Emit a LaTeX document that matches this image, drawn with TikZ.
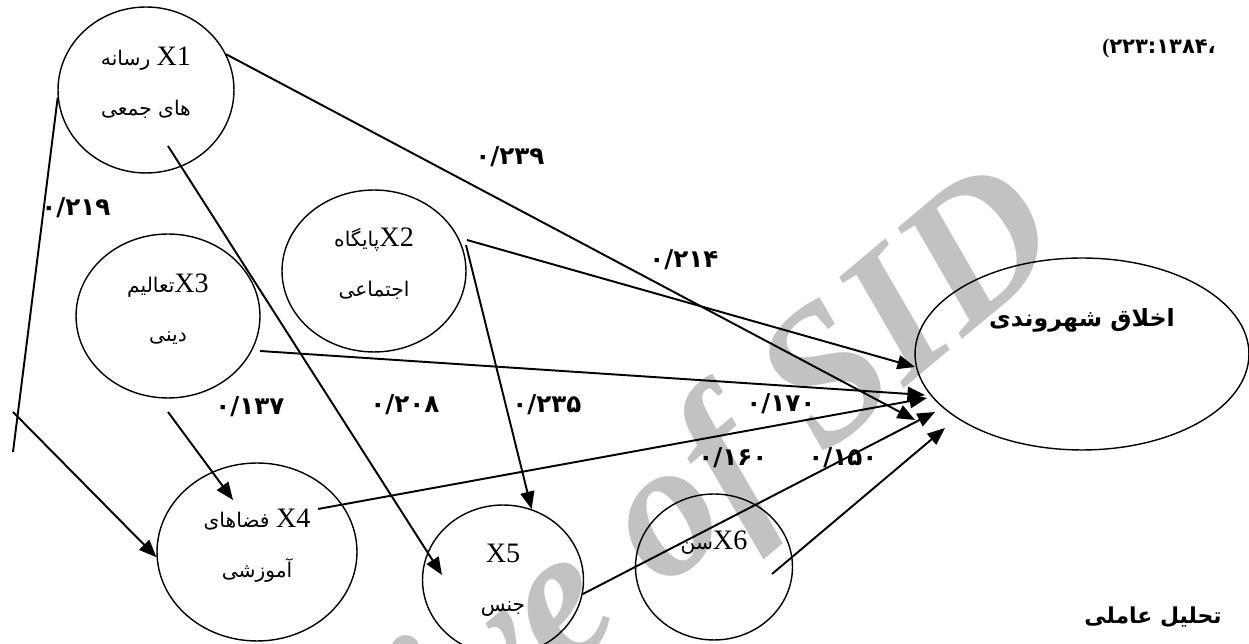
\documentclass[tikz,border=0pt]{standalone}
\usepackage{fontspec}
\setmainfont{Liberation Serif}
\newfontfamily\arabicfont[Script=Arabic]{DejaVu Sans}
\TeXXeTstate=1
\usetikzlibrary{shapes.geometric, arrows.meta}

\newcommand{\lat}[1]{{\rmfamily\fontsize{16}{28}\selectfont #1}}

\begin{document}
\begin{tikzpicture}[x=0.02cm, y=-0.02cm,
    factor/.style={ellipse, draw, line width=0.8pt, inner sep=0pt, align=center,
        font=\arabicfont\fontsize{11.5}{28}\selectfont},
    effect/.style={-{Triangle[length=10pt, width=8pt]}, line width=1.1pt},
    coef/.style={font=\arabicfont\bfseries\fontsize{14}{16}\selectfont},
    heading/.style={font=\arabicfont\bfseries\fontsize{13.5}{20}\selectfont}]

    \useasboundingbox (0,0) rectangle (1249,644);

    \node [rotate=40, anchor=base east, text=black!24, font=\bfseries\itshape\fontsize{110}{110}\selectfont] (wm) at (1075,245) {Archive of SID};

    \node [factor, minimum width=3.52cm, minimum height=3.32cm, text depth=10pt] (x1) at (146,90) {\beginR\lat{X1} رسانه\endR\\\beginR های جمعی\endR};
    \node [factor, minimum width=3.68cm, minimum height=3.24cm, text depth=10pt] (x2) at (374,271) {\beginR\lat{X2}پایگاه\endR\\\beginR اجتماعی\endR};
    \node [factor, minimum width=3.68cm, minimum height=3.28cm, text depth=9pt] (x3) at (168,316) {\beginR\lat{X3}تعالیم\endR\\\beginR دینی\endR};
    \node [factor, minimum width=4cm, minimum height=3.56cm, text depth=10pt] (x4) at (257,552) {\beginR\lat{X4} فضاهای\endR\\\beginR آموزشی\endR};
    \node [factor, minimum width=3.22cm, minimum height=3cm] (x5) at (503,580) {\lat{X5}\\جنس};
    \node [factor, minimum width=3.14cm, minimum height=2.92cm, text depth=31pt] (x6) at (714,567) {\beginR\lat{X6}سن\endR};
    \node [factor, heading, minimum width=6.68cm, minimum height=3.84cm, text depth=42pt] (y) at (1082,354) {\beginR اخلاق شهروندی\endR};

    \coordinate (foot) at (13,452);
    \coordinate (tail) at (13,412);

    \draw [effect] (x1.24) -- ([shift={(-167,66)}]y.center);
    \draw [effect] ([shift={(22,56)}]x1.center) -- ([shift={(-61,-5)}]x5.center);
    \draw [line width=1.1pt] (x1.185) -- (foot);
    \draw [effect] (tail) -- (x4.183);
    \draw [effect] ([shift={(0,96)}]x3.center) -- ([shift={(-24,-52)}]x4.center);
    \draw [effect] ([shift={(92,35)}]x3.center) -- ([shift={(-157,41)}]y.center);
    \draw [effect] ([shift={(93,-31)}]x2.center) -- ([shift={(-167,13)}]y.center);
    \draw [effect] ([shift={(92,-26)}]x2.center) -- (x5.68);
    \draw [effect] ([shift={(61,-43)}]x4.center) -- ([shift={(-155,44)}]y.center);
    \draw [effect] (x5.350) -- ([shift={(-147,58)}]y.center);
    \draw [effect] ([shift={(58,7)}]x6.center) -- ([shift={(-137,74)}]y.center);

    \node [coef] (c239) at (510,157) {۰/۲۳۹};
    \node [coef] (c219) at (76,208) {۰/۲۱۹};
    \node [coef] (c214) at (684,260) {۰/۲۱۴};
    \node [coef] (c137) at (250,407) {۰/۱۳۷};
    \node [coef] (c208) at (405,405) {۰/۲۰۸};
    \node [coef] (c235) at (547,405) {۰/۲۳۵};
    \node [coef] (c170) at (781,404) {۰/۱۷۰};
    \node [coef] (c160) at (733,458) {۰/۱۶۰};
    \node [coef] (c150) at (843,458) {۰/۱۵۰};

    \node [coef, font=\arabicfont\bfseries\fontsize{12}{14}\selectfont, anchor=east] (cite) at (1222,48) {\hbox{\rmfamily\bfseries(}\hbox{۲۲۳}\hbox{:}\hbox{۱۳۸۴}\hbox{،}};
    \node [heading, font=\arabicfont\bfseries\fontsize{12.5}{20}\selectfont] (factorial) at (1153,617) {\beginR تحلیل عاملی\endR};
\end{tikzpicture}
\end{document}
